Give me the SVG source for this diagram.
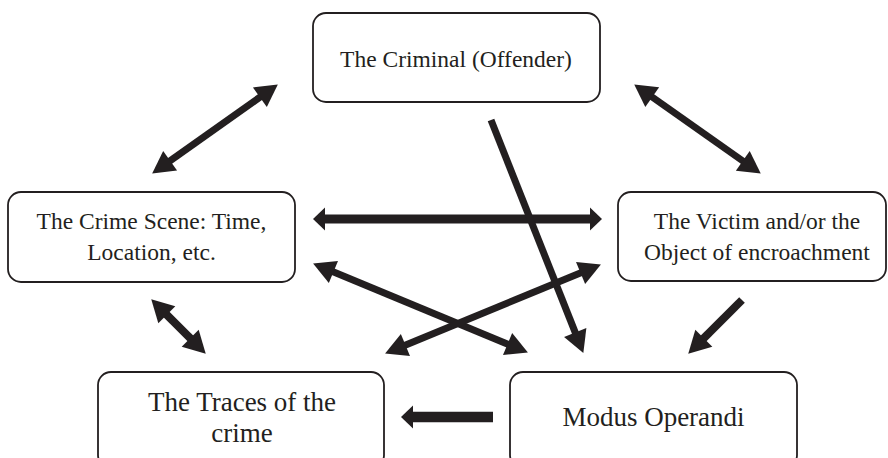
<svg xmlns="http://www.w3.org/2000/svg" width="888" height="458" viewBox="0 0 888 458">
<style>
.box{fill:#fff;stroke:#231f20;stroke-width:1.8}
.t{font-family:"Liberation Serif","Times New Roman",serif;fill:#231f20;text-anchor:middle}
.m{font-size:23.5px}
.l{font-size:27px}
.c{stroke:#231f20;fill:none}
.d{stroke-width:7}
</style>
<defs>
<marker id="a" markerUnits="userSpaceOnUse" markerWidth="24" markerHeight="26" viewBox="0 -13 24 26" refX="1" refY="0" orient="auto-start-reverse" overflow="visible">
<path d="M0,-12 L22,0 L0,12 z" fill="#231f20"/>
</marker>
<marker id="b" markerUnits="userSpaceOnUse" markerWidth="14" markerHeight="26" viewBox="0 -13 14 26" refX="1" refY="0" orient="auto-start-reverse" overflow="visible">
<path d="M0,-11.5 L12,0 L0,11.5 z" fill="#231f20"/>
</marker>
</defs>
<rect width="888" height="458" fill="#fff"/>
<g id="criminal">
<rect class="box" x="313" y="13" width="287" height="89" rx="13"/>
<text class="t m" x="456" y="67">The Criminal (Offender)</text>
</g>
<g id="scene">
<rect class="box" x="8" y="192" width="287" height="90" rx="13"/>
<text class="t m" x="151.5" y="229">The Crime Scene: Time,</text>
<text class="t m" x="151.5" y="260">Location, etc.</text>
</g>
<g id="victim">
<rect class="box" x="618" y="192" width="268" height="89" rx="13"/>
<text class="t m" x="757" y="229">The Victim and/or the</text>
<text class="t m" x="757" y="260">Object of encroachment</text>
</g>
<g id="traces">
<rect class="box" x="98" y="372" width="286" height="96" rx="13"/>
<text class="t l" x="242" y="411">The Traces of the</text>
<text class="t l" x="242" y="442">crime</text>
</g>
<g id="modus">
<rect class="box" x="510" y="372" width="287" height="96" rx="13"/>
<text class="t l" x="653.5" y="426">Modus Operandi</text>
</g>
<g id="connectors">
<line class="c d" x1="169.3" y1="161.4" x2="260.7" y2="96.6" marker-start="url(#a)" marker-end="url(#a)"/>
<line class="c d" x1="651.4" y1="96.5" x2="743.6" y2="161.5" marker-start="url(#a)" marker-end="url(#a)"/>
<line class="c" stroke-width="9" x1="324" y1="219" x2="591" y2="219" marker-start="url(#b)" marker-end="url(#b)"/>
<line class="c d" x1="491" y1="120" x2="575.6" y2="333.4" marker-end="url(#a)"/>
<line class="c d" x1="332.5" y1="271.6" x2="508.5" y2="344.4" marker-start="url(#a)" marker-end="url(#a)"/>
<line class="c d" x1="581.5" y1="272.6" x2="404.5" y2="345.4" marker-start="url(#a)" marker-end="url(#a)"/>
<line class="c" stroke-width="8" x1="166.1" y1="314.1" x2="190.9" y2="338.9" marker-start="url(#a)" marker-end="url(#a)"/>
<line class="c" stroke-width="8" x1="742" y1="300" x2="703.1" y2="338.9" marker-end="url(#a)"/>
<line class="c" stroke-width="10.5" x1="493" y1="417" x2="412" y2="417" marker-end="url(#b)"/>
</g>
</svg>
